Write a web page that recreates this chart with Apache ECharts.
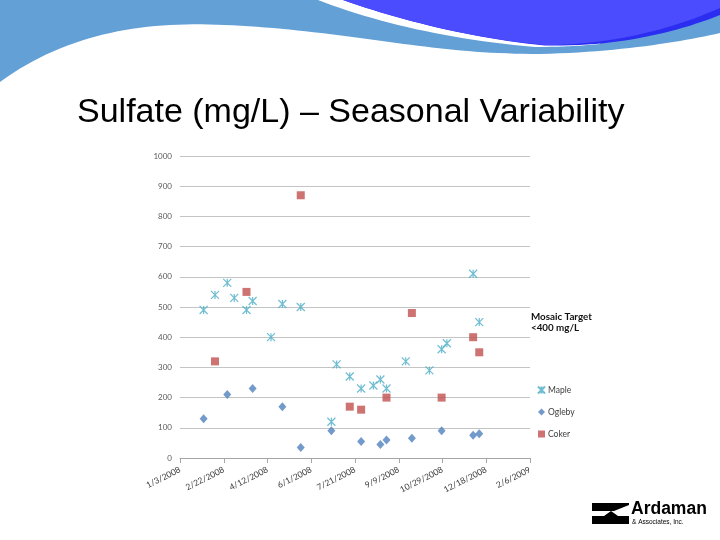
<!DOCTYPE html>
<html>
<head>
<meta charset="utf-8">
<script src="https://cdn.jsdelivr.net/npm/echarts@6/dist/echarts.min.js"></script>
<style>
  html, body { margin: 0; padding: 0; background: #ffffff; }
  #chart { width: 720px; height: 540px; }
</style>
</head>
<body>
<div id="chart"></div>
<script>
// ---- Data ----
const mapleDates = ['2008-01-30','2008-02-12','2008-02-26','2008-03-05','2008-03-19','2008-03-26','2008-04-16','2008-04-29','2008-05-20','2008-06-24','2008-06-30','2008-07-15','2008-07-28','2008-08-11','2008-08-19','2008-08-26','2008-09-17','2008-10-14','2008-10-28','2008-11-03','2008-12-03','2008-12-10'];
const mapleValues = [490, 540, 580, 530, 490, 520, 400, 510, 500, 120, 310, 270, 230, 240, 260, 230, 320, 290, 360, 380, 610, 450];

const oglebyDates = ['2008-01-30','2008-02-26','2008-03-26','2008-04-29','2008-05-20','2008-06-24','2008-07-28','2008-08-19','2008-08-26','2008-09-24','2008-10-28','2008-12-03','2008-12-10'];
const oglebyValues = [130, 210, 230, 170, 35, 90, 55, 45, 60, 65, 90, 75, 80];

const cokerDates = ['2008-02-12','2008-03-19','2008-05-20','2008-07-15','2008-07-28','2008-08-26','2008-09-24','2008-10-28','2008-12-03','2008-12-10'];
const cokerValues = [320, 550, 870, 170, 160, 200, 480, 200, 400, 350];

const seriesNames = ['Maple', 'Ogleby', 'Coker'];
const xTickLabels = ['1/3/2008','2/22/2008','4/12/2008','6/1/2008','7/21/2008','9/9/2008','10/29/2008','12/18/2008','2/6/2009'];
const yTickLabels = ['0','100','200','300','400','500','600','700','800','900','1000'];

const titleText = 'Sulfate (mg/L) \u2013 Seasonal Variability';
const noteLines = ['Mosaic Target', '<400 mg/L'];

// ---- Helpers ----
// Excel-style serial day number (1/3/2008 = 39450)
function serial(s) {
  const p = s.split('-').map(Number);
  return Math.round((Date.UTC(p[0], p[1] - 1, p[2]) - Date.UTC(1899, 11, 30)) / 86400000);
}
function pairs(dates, vals) { return dates.map((d, i) => [serial(d), vals[i]]); }

// turn a simple absolute M/L/C path into polygon points (decoration only)
function pathToPoints(d) {
  const tok = d.match(/[MLCZ]|-?\d+(\.\d+)?/g);
  const pts = [];
  let i = 0, cmd = null, cx = 0, cy = 0;
  while (i < tok.length) {
    const t = tok[i];
    if (/[MLCZ]/.test(t)) { cmd = t; i++; if (t === 'Z') continue; }
    if (cmd === 'M' || cmd === 'L') {
      cx = +tok[i]; cy = +tok[i + 1]; i += 2; pts.push([cx, cy]);
    } else if (cmd === 'C') {
      const x1 = +tok[i], y1 = +tok[i + 1], x2 = +tok[i + 2], y2 = +tok[i + 3], x3 = +tok[i + 4], y3 = +tok[i + 5];
      i += 6;
      for (let k = 1; k <= 24; k++) {
        const s = k / 24, u = 1 - s;
        pts.push([u*u*u*cx + 3*u*u*s*x1 + 3*u*s*s*x2 + s*s*s*x3,
                  u*u*u*cy + 3*u*u*s*y1 + 3*u*s*s*y2 + s*s*s*y3]);
      }
      cx = x3; cy = y3;
    } else { i++; }
  }
  return pts;
}
function deco(d, fill, z) {
  return { type: 'polygon', z: z, silent: true, shape: { points: pathToPoints(d) }, style: { fill: fill } };
}

const xMin = serial('2008-01-03');   // 39450, multiple of 50
const xMax = serial('2009-02-06');   // 39850
const xStep = 50;

const chart = echarts.init(document.getElementById('chart'), null, { renderer: 'canvas' });

const FONT = 'Lato, "Open Sans", sans-serif';

const option = {
  backgroundColor: '#ffffff',
  animation: false,
  grid: { left: 180, top: 156, width: 350, height: 302, containLabel: false },
  xAxis: {
    type: 'value',
    min: xMin, max: xMax, interval: xStep,
    axisLine: { show: true, lineStyle: { color: '#a6a6a6', width: 1 } },
    axisTick: { show: true, length: 5, lineStyle: { color: '#a6a6a6' } },
    splitLine: { show: false },
    axisLabel: {
      rotate: 27, fontSize: 8.5, color: '#404040', fontFamily: FONT, margin: 11,
      formatter: v => xTickLabels[Math.round((v - xMin) / xStep)] || ''
    }
  },
  yAxis: {
    type: 'value',
    min: 0, max: 1000, interval: 100,
    axisLine: { show: false },
    axisTick: { show: false },
    splitLine: { show: true, lineStyle: { color: '#c4c4c4', width: 1 } },
    axisLabel: {
      fontSize: 8, color: '#595959', fontFamily: FONT, margin: 8,
      formatter: v => yTickLabels[Math.round(v / 100)]
    }
  },
  legend: {
    orient: 'vertical',
    left: 532, top: 380,
    itemWidth: 7, itemHeight: 7, itemGap: 12,
    textStyle: { fontSize: 8.5, color: '#404040', fontFamily: FONT, lineHeight: 10, padding: [0, 0, 0, -2] },
    data: seriesNames
  },
  series: [
    {
      name: seriesNames[0], type: 'scatter',
      symbol: 'path://M0,0L10,10M10,0L0,10M5,0L5,10',
      symbolSize: 8,
      itemStyle: { color: 'rgba(0,0,0,0)', borderColor: '#4bacc6', borderWidth: 1.2 },
      data: pairs(mapleDates, mapleValues)
    },
    {
      name: seriesNames[1], type: 'scatter',
      symbol: 'diamond', symbolSize: [8, 9],
      itemStyle: { color: '#4f81bd' },
      data: pairs(oglebyDates, oglebyValues)
    },
    {
      name: seriesNames[2], type: 'scatter',
      symbol: 'rect', symbolSize: 8,
      itemStyle: { color: '#c0504d' },
      data: pairs(cokerDates, cokerValues)
    }
  ],
  graphic: [
    // header waves
    deco('M0,0 L720,0 L720,33 C680,42 620,52 540,54 C470,54 420,46 360,38 C300,30 230,22 170,25 C110,28 50,45 0,82 Z', '#63a0d6', 1),
    deco('M318,0 C375,22 450,40 535,47 C560,47 580,46 600,44 L600,0 Z', '#ffffff', 2),
    deco('M343,0 C400,20 470,38 545,45.5 C615,47 675,33 720,15 L720,0 Z', '#2b2ef0', 3),
    deco('M343,0 C400,20 470,38 545,45 C610,45 670,30 720,8 L720,0 Z', '#4b4cfd', 4),
    // title
    { type: 'text', left: 77, top: 96, z: 5,
      style: { text: titleText, font: '34px "Liberation Sans", Arial, sans-serif', fill: '#000000' } },
    // annotation
    { type: 'text', left: 531, top: 312, z: 5,
      style: { text: noteLines[0], font: 'bold 9.8px ' + FONT, fill: '#111111' } },
    { type: 'text', left: 531, top: 323, z: 5,
      style: { text: noteLines[1], font: 'bold 9.8px ' + FONT, fill: '#111111' } },
    // logo icon
    deco('M592,503 L629,503 L629,505 L614,511 L592,511 Z', '#000000', 5),
    deco('M592,516 L604,516 L611,511 L618,516 L629,516 L629,524 L592,524 Z', '#000000', 5),
    { type: 'text', left: 631, top: 500, z: 5,
      style: { text: 'Ardaman', font: 'bold 17.5px "Liberation Sans", Arial, sans-serif', fill: '#000000' } },
    { type: 'text', left: 632, top: 519, z: 5,
      style: { text: '& Associates, Inc.', font: '6.5px "Liberation Sans", Arial, sans-serif', fill: '#000000' } }
  ]
};

chart.setOption(option);
</script>
</body>
</html>
